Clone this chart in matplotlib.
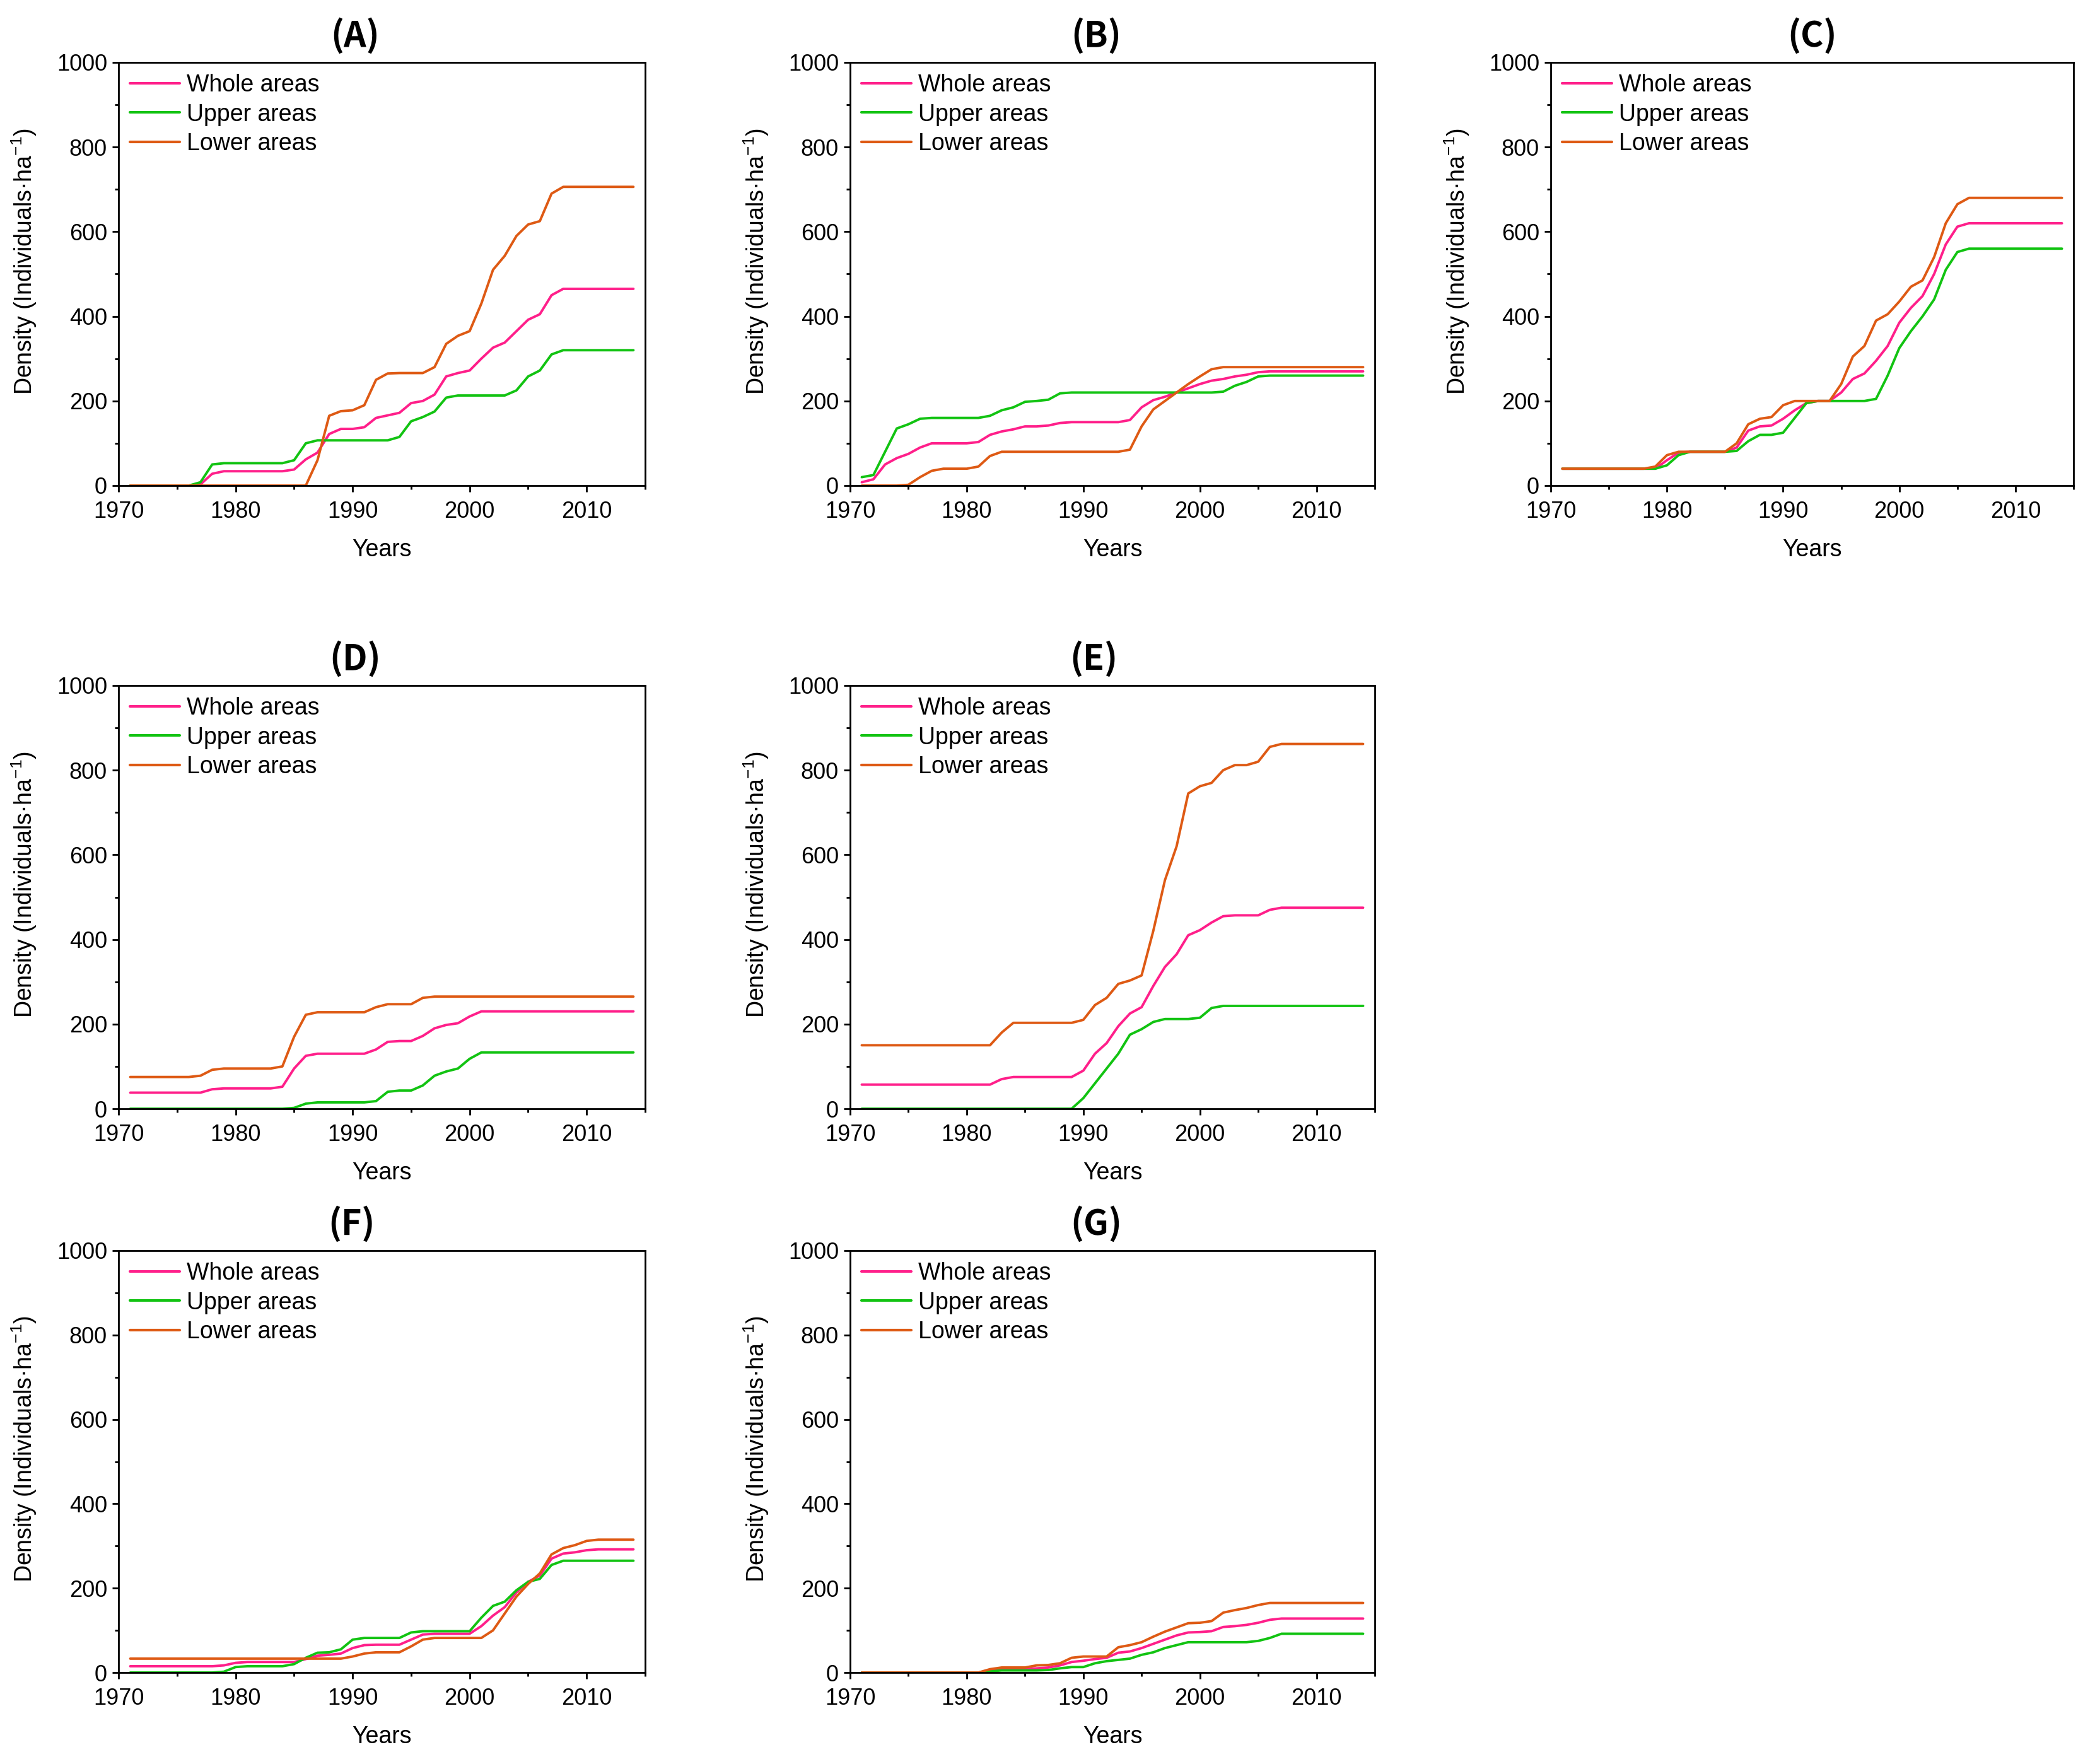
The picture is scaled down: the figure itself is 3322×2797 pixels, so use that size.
import matplotlib
matplotlib.use("Agg")
import matplotlib.pyplot as plt
from matplotlib.ticker import MultipleLocator

plt.rcParams['font.family'] = ['Liberation Sans', 'DejaVu Sans']
plt.rcParams['mathtext.default'] = 'regular'

years = list(range(1971, 2015))
series_labels = ["Whole areas", "Upper areas", "Lower areas"]
panel_names = ["(A)", "(B)", "(C)", "(D)", "(E)", "(F)", "(G)"]

A_whole = [0, 0, 0, 0, 0, 0, 3, 28, 34, 34,
           34, 34, 34, 34, 38, 62, 78, 122, 134, 134,
           138, 160, 166, 172, 195, 200, 215, 258, 266, 272,
           300, 326, 338, 365, 392, 405, 450, 465, 465, 465,
           465, 465, 465, 465]
A_upper = [0, 0, 0, 0, 0, 0, 8, 50, 53, 53,
           53, 53, 53, 53, 60, 100, 107, 107, 107, 107,
           107, 107, 107, 115, 152, 162, 175, 208, 213, 213,
           213, 213, 213, 225, 258, 272, 310, 320, 320, 320,
           320, 320, 320, 320]
A_lower = [0, 0, 0, 0, 0, 0, 0, 0, 0, 0,
           0, 0, 0, 0, 0, 0, 60, 165, 176, 178,
           190, 250, 265, 266, 266, 266, 280, 335, 354, 365,
           430, 510, 543, 590, 617, 625, 690, 706, 706, 706,
           706, 706, 706, 706]

B_whole = [8, 15, 50, 65, 75, 90, 100, 100, 100, 100,
           103, 120, 128, 133, 140, 140, 142, 148, 150, 150,
           150, 150, 150, 155, 185, 202, 210, 220, 230, 240,
           248, 252, 258, 262, 268, 270, 270, 270, 270, 270,
           270, 270, 270, 270]
B_upper = [20, 25, 80, 135, 145, 158, 160, 160, 160, 160,
           160, 165, 178, 185, 198, 200, 203, 218, 220, 220,
           220, 220, 220, 220, 220, 220, 220, 220, 220, 220,
           220, 222, 236, 245, 258, 260, 260, 260, 260, 260,
           260, 260, 260, 260]
B_lower = [0, 0, 0, 0, 2, 20, 35, 40, 40, 40,
           45, 70, 80, 80, 80, 80, 80, 80, 80, 80,
           80, 80, 80, 85, 140, 180, 200, 220, 240, 258,
           275, 280, 280, 280, 280, 280, 280, 280, 280, 280,
           280, 280, 280, 280]

C_whole = [40, 40, 40, 40, 40, 40, 40, 40, 40, 60,
           78, 80, 80, 80, 80, 90, 130, 140, 142, 158,
           178, 195, 200, 200, 220, 252, 265, 295, 330, 385,
           420, 448, 500, 570, 612, 620, 620, 620, 620, 620,
           620, 620, 620, 620]
C_upper = [40, 40, 40, 40, 40, 40, 40, 40, 40, 48,
           72, 80, 80, 80, 80, 82, 105, 120, 120, 125,
           160, 195, 200, 200, 200, 200, 200, 205, 260, 325,
           365, 400, 440, 510, 552, 560, 560, 560, 560, 560,
           560, 560, 560, 560]
C_lower = [40, 40, 40, 40, 40, 40, 40, 40, 45, 72,
           80, 80, 80, 80, 80, 100, 145, 158, 162, 190,
           200, 200, 200, 200, 240, 305, 330, 390, 405, 435,
           470, 485, 540, 620, 665, 680, 680, 680, 680, 680,
           680, 680, 680, 680]

D_whole = [38, 38, 38, 38, 38, 38, 38, 46, 48, 48,
           48, 48, 48, 52, 95, 125, 130, 130, 130, 130,
           130, 140, 158, 160, 160, 172, 190, 198, 202, 218,
           230, 230, 230, 230, 230, 230, 230, 230, 230, 230,
           230, 230, 230, 230]
D_upper = [0, 0, 0, 0, 0, 0, 0, 0, 0, 0,
           0, 0, 0, 0, 2, 12, 15, 15, 15, 15,
           15, 18, 40, 43, 43, 55, 78, 88, 95, 118,
           133, 133, 133, 133, 133, 133, 133, 133, 133, 133,
           133, 133, 133, 133]
D_lower = [75, 75, 75, 75, 75, 75, 78, 92, 95, 95,
           95, 95, 95, 100, 170, 222, 228, 228, 228, 228,
           228, 240, 247, 247, 247, 262, 265, 265, 265, 265,
           265, 265, 265, 265, 265, 265, 265, 265, 265, 265,
           265, 265, 265, 265]

E_whole = [57, 57, 57, 57, 57, 57, 57, 57, 57, 57,
           57, 57, 70, 75, 75, 75, 75, 75, 75, 90,
           130, 155, 195, 225, 240, 290, 335, 365, 410, 422,
           440, 455, 457, 457, 457, 470, 475, 475, 475, 475,
           475, 475, 475, 475]
E_upper = [0, 0, 0, 0, 0, 0, 0, 0, 0, 0,
           0, 0, 0, 0, 0, 0, 0, 0, 0, 25,
           60, 95, 130, 175, 188, 205, 212, 212, 212, 215,
           238, 243, 243, 243, 243, 243, 243, 243, 243, 243,
           243, 243, 243, 243]
E_lower = [150, 150, 150, 150, 150, 150, 150, 150, 150, 150,
           150, 150, 180, 203, 203, 203, 203, 203, 203, 210,
           245, 262, 295, 303, 315, 420, 540, 620, 745, 762,
           770, 800, 812, 812, 820, 855, 862, 862, 862, 862,
           862, 862, 862, 862]

F_whole = [15, 15, 15, 15, 15, 15, 15, 15, 17, 23,
           25, 25, 25, 25, 25, 32, 40, 42, 45, 58,
           65, 66, 66, 66, 78, 90, 92, 92, 92, 92,
           110, 135, 155, 190, 215, 230, 270, 282, 285, 290,
           292, 292, 292, 292]
F_upper = [0, 0, 0, 0, 0, 0, 0, 0, 2, 13,
           15, 15, 15, 15, 20, 35, 47, 48, 55, 78,
           82, 82, 82, 82, 95, 98, 98, 98, 98, 98,
           130, 158, 168, 195, 215, 222, 255, 265, 265, 265,
           265, 265, 265, 265]
F_lower = [33, 33, 33, 33, 33, 33, 33, 33, 33, 33,
           33, 33, 33, 33, 33, 33, 33, 33, 33, 38,
           45, 48, 48, 48, 62, 78, 82, 82, 82, 82,
           82, 100, 140, 180, 210, 235, 280, 295, 302, 312,
           315, 315, 315, 315]

G_whole = [0, 0, 0, 0, 0, 0, 0, 0, 0, 0,
           0, 5, 8, 8, 8, 10, 12, 17, 25, 28,
           32, 35, 47, 50, 58, 68, 78, 88, 95, 96,
           98, 108, 110, 113, 118, 125, 128, 128, 128, 128,
           128, 128, 128, 128]
G_upper = [0, 0, 0, 0, 0, 0, 0, 0, 0, 0,
           0, 3, 5, 5, 5, 5, 6, 10, 13, 13,
           22, 27, 30, 33, 42, 48, 58, 65, 72, 72,
           72, 72, 72, 72, 75, 82, 92, 92, 92, 92,
           92, 92, 92, 92]
G_lower = [0, 0, 0, 0, 0, 0, 0, 0, 0, 0,
           0, 8, 12, 12, 12, 17, 18, 22, 35, 38,
           38, 38, 60, 65, 72, 85, 97, 107, 117, 118,
           122, 142, 148, 153, 160, 165, 165, 165, 165, 165,
           165, 165, 165, 165]

panels = [
    (A_whole, A_upper, A_lower),
    (B_whole, B_upper, B_lower),
    (C_whole, C_upper, C_lower),
    (D_whole, D_upper, D_lower),
    (E_whole, E_upper, E_lower),
    (F_whole, F_upper, F_lower),
    (G_whole, G_upper, G_lower),
]

colors = ['#FF1F8A', '#12C312', '#DE5A14']

W, H = 3323, 2797
fig = plt.figure(figsize=(W / 100, H / 100), dpi=100)

col_left = [188, 1348, 2459]
col_width = [835, 832, 829]
row_top = [99, 1087, 1983]
row_height = [671, 671, 669]
positions = [(0, 0), (0, 1), (0, 2), (1, 0), (1, 1), (2, 0), (2, 1)]
title_x = [0.449, 0.469, 0.50, 0.449, 0.464, 0.442, 0.469]

for i, (r, c) in enumerate(positions):
    l = col_left[c] / W
    w = col_width[c] / W
    b = 1 - (row_top[r] + row_height[r]) / H
    h = row_height[r] / H
    ax = fig.add_axes([l, b, w, h])
    for data, lab, col in zip(panels[i], series_labels, colors):
        ax.plot(years, data, color=col, lw=2.8, label=lab,
                solid_joinstyle='round', solid_capstyle='round')
    ax.set_xlim(1970, 2015)
    ax.set_ylim(0, 1000)
    ax.xaxis.set_major_locator(MultipleLocator(10))
    ax.xaxis.set_minor_locator(MultipleLocator(5))
    ax.yaxis.set_major_locator(MultipleLocator(200))
    ax.yaxis.set_minor_locator(MultipleLocator(100))
    ax.tick_params(which='both', direction='out', top=False, right=False,
                   width=2, colors='black')
    ax.tick_params(which='major', length=7, labelsize=26)
    ax.tick_params(axis='x', which='major', pad=10)
    ax.tick_params(axis='y', which='major', pad=6)
    ax.tick_params(which='minor', length=4)
    for sp in ax.spines.values():
        sp.set_linewidth(2)
        sp.set_color('black')
    ax.set_xlabel('Years', fontsize=27, labelpad=18)
    ax.set_ylabel('Density (Individuals·ha$^{-1}$)', fontsize=27)
    ax.yaxis.set_label_coords(-0.152, 0.53)
    ax.set_title(panel_names[i], fontsize=40, fontweight='bold',
                 family=['Noto Sans CJK SC', 'DejaVu Sans'], x=title_x[i], pad=18)
    leg = ax.legend(loc='upper left', frameon=False, fontsize=27,
                    handlelength=2.1, handletextpad=0.3, labelspacing=0.28,
                    borderaxespad=0.1, borderpad=0.38)
    for line in leg.get_lines():
        line.set_linewidth(3)

fig.savefig('out.png', dpi=100, facecolor='white')
